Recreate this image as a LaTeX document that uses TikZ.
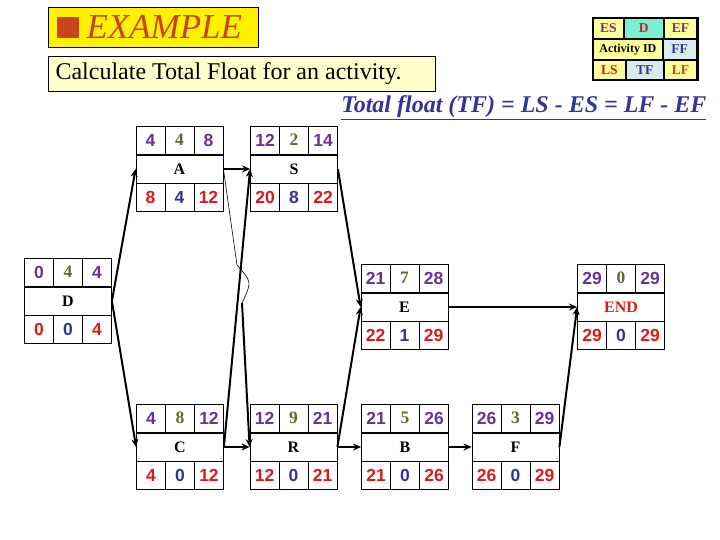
\documentclass[tikz,border=0pt]{standalone}
\usepackage{fontspec}
\setmainfont{Liberation Serif}
\setsansfont{Liberation Sans}
\usetikzlibrary{arrows.meta,positioning}

\definecolor{esclr}{HTML}{663399}
\definecolor{durclr}{HTML}{666633}
\definecolor{lsclr}{HTML}{DD1A1A}
\definecolor{tfclr}{HTML}{333399}
\definecolor{hdrclr}{HTML}{C8421A}
\definecolor{legyel}{HTML}{FFFF99}
\definecolor{legaqua}{HTML}{77F0D4}
\definecolor{legcyan}{HTML}{D8ECEC}

\tikzset{
  numcell/.style={draw, line width=0.8pt, minimum width=29pt, minimum height=28pt, inner sep=0pt,
    font=\sffamily\bfseries\fontsize{17.5}{19}\selectfont},
  idcell/.style={draw, line width=0.8pt, minimum width=87pt, minimum height=28pt, inner sep=0pt,
    font=\bfseries\fontsize{16}{18}\selectfont},
  topnum/.style={text=esclr},
  durnum/.style={text=durclr, font=\rmfamily\bfseries\fontsize{17.5}{19}\selectfont},
  botnum/.style={text=lsclr},
  tfnum/.style={text=tfclr},
  conn/.style={line width=2pt, -{Stealth[length=8pt,width=7pt]}},
  legcell/.style={draw, line width=0.8pt, minimum height=20pt, inner sep=0pt,
    font=\bfseries\fontsize{13.5}{15}\selectfont},
}

% activity box: name, label, centre, ES, D, EF, LS, TF, LF
\newcommand{\actbox}[9]{%
  \node[idcell] (#1) at (#3) {#2};
  \node[numcell, topnum, anchor=south west] at (#1.north west) {#4};
  \node[numcell, durnum, anchor=south] at (#1.north) {#5};
  \node[numcell, topnum, anchor=south east] at (#1.north east) {#6};
  \node[numcell, botnum, anchor=north west] at (#1.south west) {#7};
  \node[numcell, tfnum, anchor=north] at (#1.south) {#8};
  \node[numcell, botnum, anchor=north east] at (#1.south east) {#9};
}

\begin{document}
\begin{tikzpicture}[x=1pt,y=-1pt]
  \useasboundingbox (0,0) rectangle (720,540);

  % header
  \node[draw, line width=0.8pt, fill=yellow, minimum width=210pt, minimum height=40pt,
    anchor=north west] (title) at (48,7) {};
  \fill[hdrclr] (57,17) rectangle (79,38);
  \node[anchor=west, text=hdrclr, font=\itshape\fontsize{35}{37}\selectfont] (titletxt) at (83,27) {EXAMPLE};
  \node[draw, line width=0.8pt, fill=legyel!50, minimum width=387pt, minimum height=35pt,
    anchor=north west] (task) at (48,56) {};
  \node[anchor=west, font=\fontsize{24}{26}\selectfont] (tasktxt) at (52,74) {Calculate Total Float for an activity.};
  \node[anchor=east, text=tfclr, font=\bfseries\itshape\fontsize{24}{26}\selectfont] (formula) at (710,108)
    {\underline{Total float (TF) = LS - ES = LF - EF}};

  % legend
  \node[legcell, fill=legyel, minimum width=30pt, anchor=north west, text=esclr!80!red] (lgES) at (593,18) {ES};
  \node[legcell, fill=legaqua, minimum width=39pt, anchor=north west, text=lsclr] (lgD) at (lgES.north east) {D};
  \node[legcell, fill=legyel, minimum width=33pt, anchor=north west, text=esclr!80!red] (lgEF) at (lgD.north east) {EF};
  \node[legcell, fill=legyel, minimum width=69pt, anchor=north west, font=\bfseries\fontsize{12}{14}\selectfont] (lgID) at (lgES.south west) {Activity ID};
  \node[legcell, fill=legcyan, minimum width=33pt, anchor=north west, text=tfclr] (lgFF) at (lgID.north east) {FF};
  \node[legcell, fill=legyel, minimum width=32pt, anchor=north west, text=lsclr] (lgLS) at (lgID.south west) {LS};
  \node[legcell, fill=legcyan, minimum width=37pt, anchor=north west, text=tfclr] (lgTF) at (lgLS.north east) {TF};
  \node[legcell, fill=legyel, minimum width=33pt, anchor=north west, text=hdrclr] (lgLF) at (lgTF.north east) {LF};
  \draw[line width=2.2pt] (lgES.north west) rectangle (lgLF.south east);

  % activities
  \actbox{A}{A}{179.5,169}{4}{4}{8}{8}{4}{12}
  \actbox{S}{S}{294,169}{12}{2}{14}{20}{8}{22}
  \actbox{D}{D}{68,301}{0}{4}{4}{0}{0}{4}
  \actbox{E}{E}{404.5,307}{21}{7}{28}{22}{1}{29}
  \actbox{END}{\textcolor{lsclr}{END}}{621,307}{29}{0}{29}{29}{0}{29}
  \actbox{C}{C}{180,447}{4}{8}{12}{4}{0}{12}
  \actbox{R}{R}{293.5,447}{12}{9}{21}{12}{0}{21}
  \actbox{B}{B}{405,447}{21}{5}{26}{21}{0}{26}
  \actbox{F}{F}{515.5,447}{26}{3}{29}{26}{0}{29}

  % links
  \draw[conn] (D.east) -- (A.west);
  \draw[conn] (D.east) -- (C.west);
  \draw[conn] (A.east) -- (S.west);
  \draw[conn] (C.east) -- (S.west);
  \coordinate (hopA) at (237,265);
  \coordinate (hopB) at (242,303);
  \draw[line width=0.6pt] (A.east) -- (hopA) .. controls (252,282) .. (hopB);
  \draw[conn] (hopB) -- (R.west);
  \draw[conn] (C.east) -- (R.west);
  \draw[conn] (S.east) -- (E.west);
  \draw[conn] (R.east) -- (E.west);
  \draw[conn] (R.east) -- (B.west);
  \draw[conn] (B.east) -- (F.west);
  \draw[conn] (E.east) -- (END.west);
  \draw[conn] (F.east) -- (END.west);
\end{tikzpicture}
\end{document}
